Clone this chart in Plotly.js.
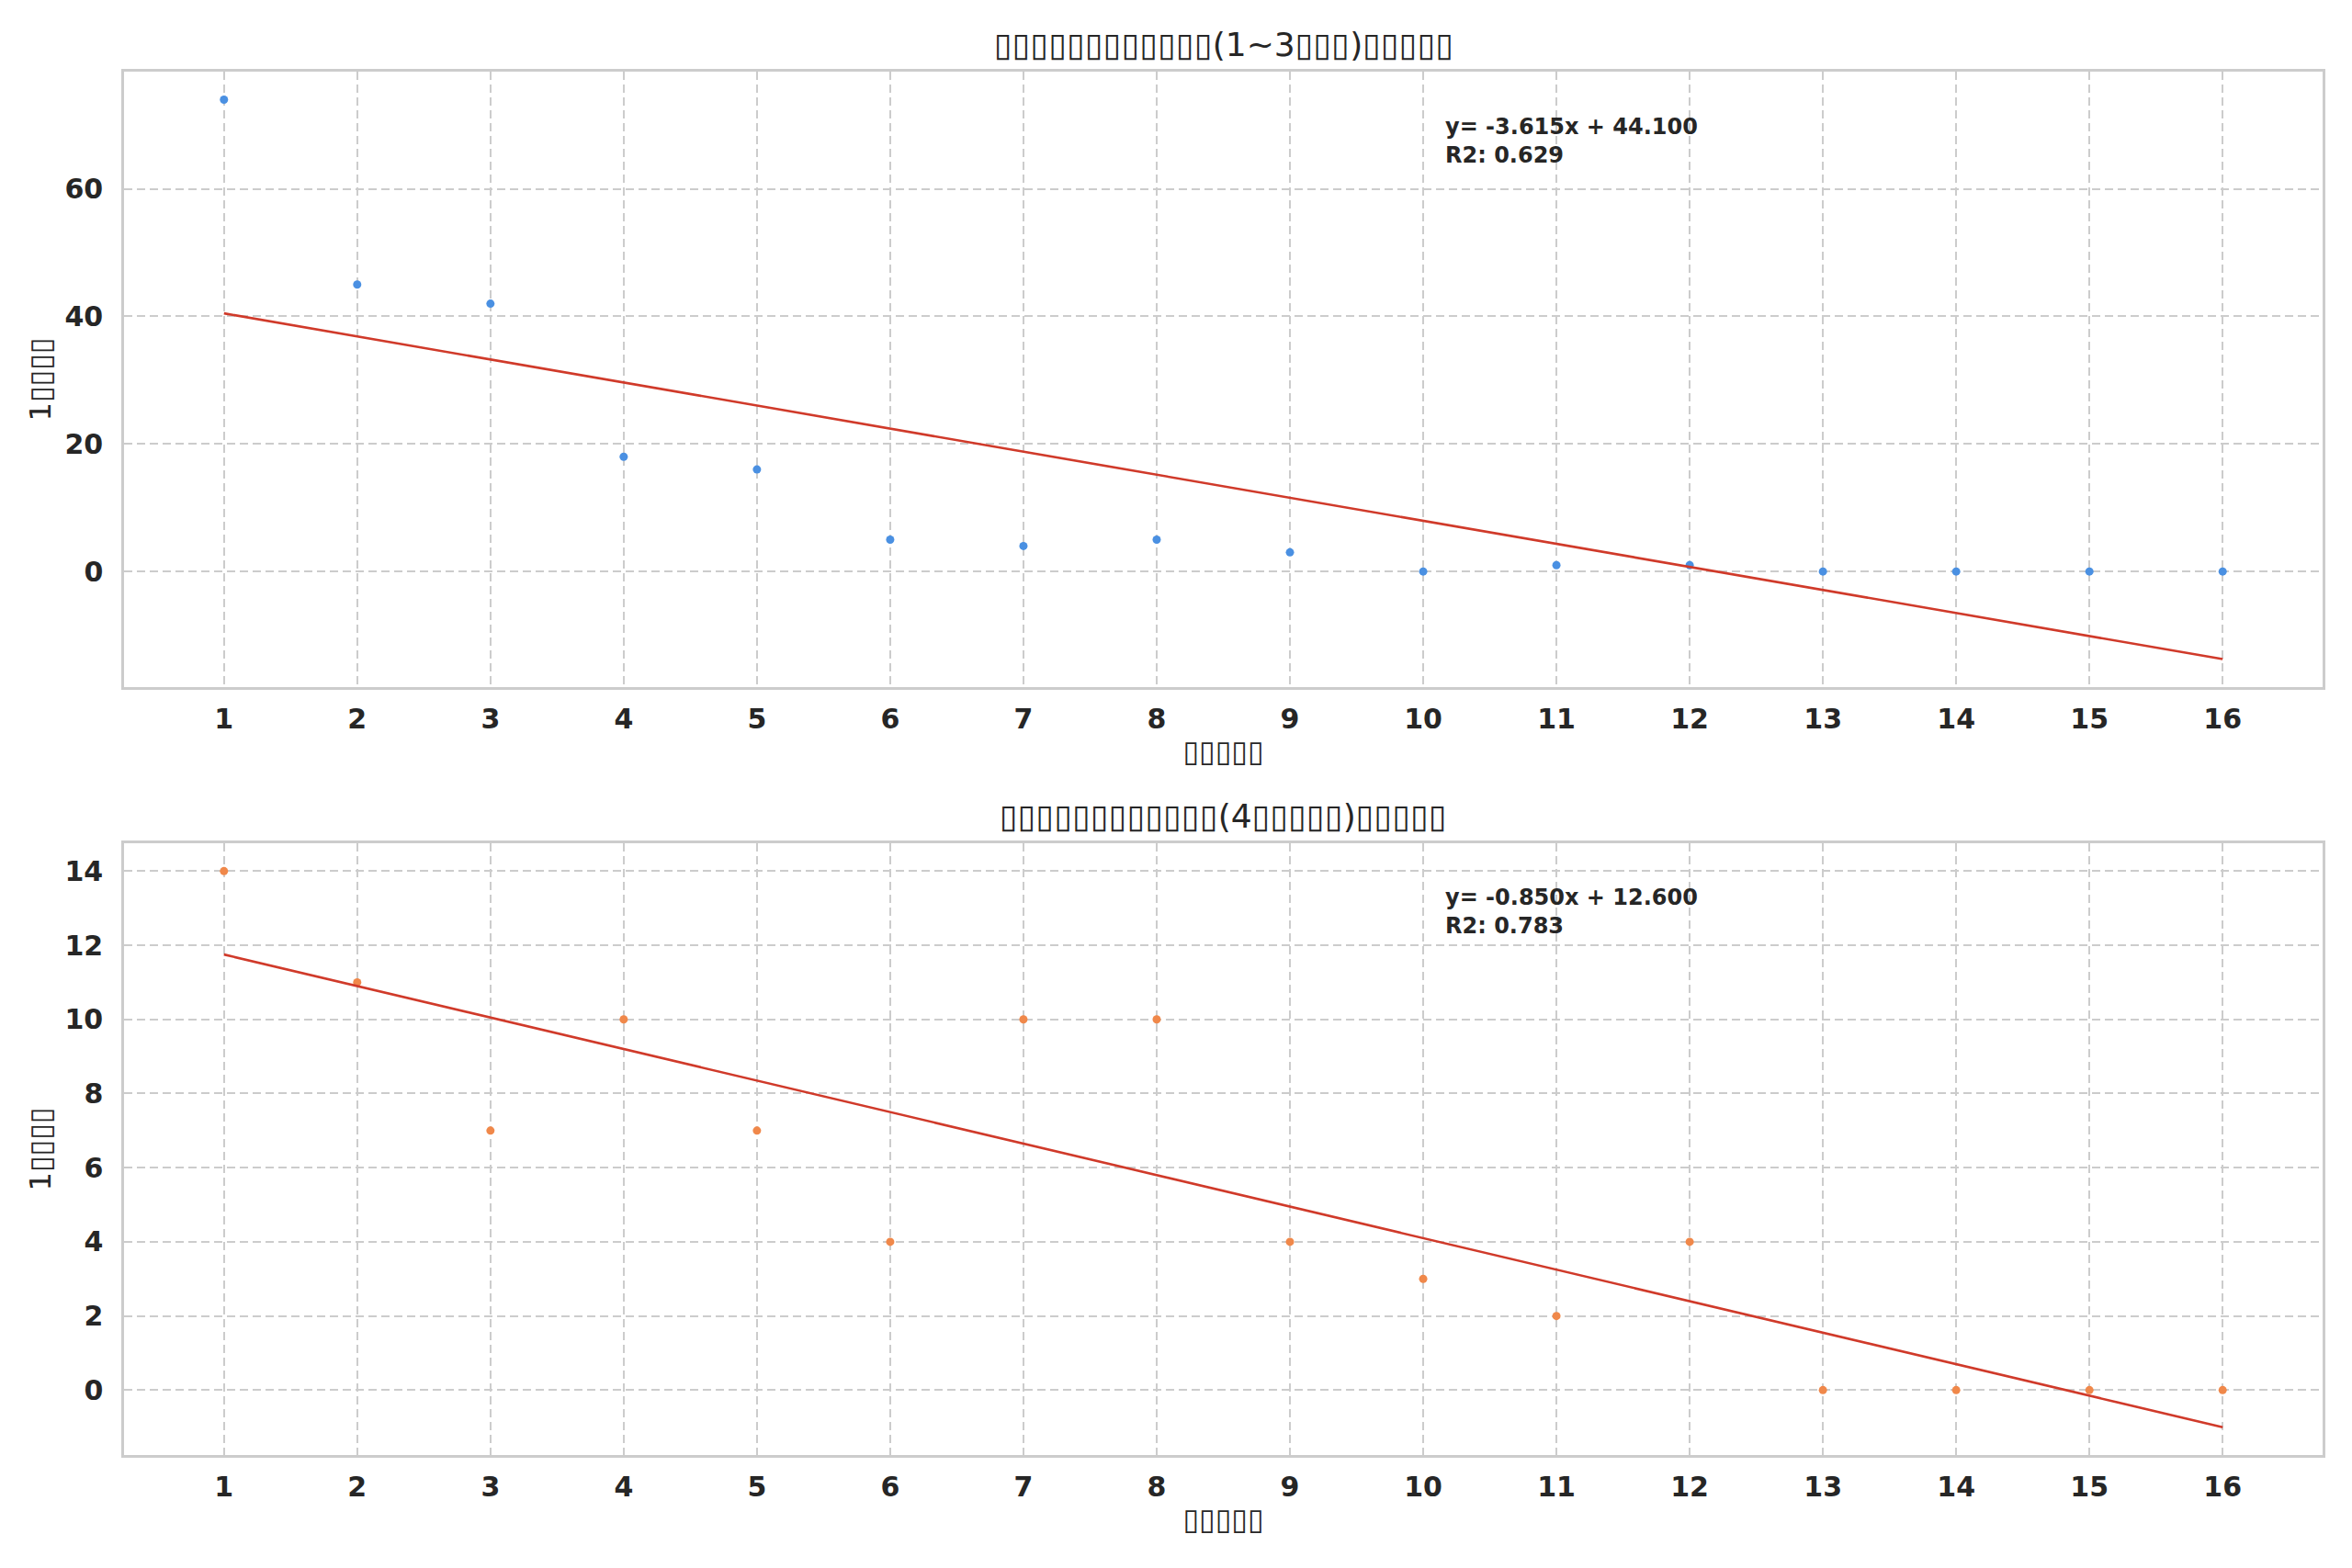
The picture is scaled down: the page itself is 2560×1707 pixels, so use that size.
<!DOCTYPE html>
<html>
<head>
<meta charset="utf-8">
<script src="https://cdn.plot.ly/plotly-3.0.1.min.js"></script>
<style>
  html, body { margin: 0; padding: 0; background: #fff; }
  #chart { width: 2560px; height: 1707px; }
</style>
</head>
<body>
<div id="chart"></div>
<script>
// months since start, shared by both panels
var months = [1, 2, 3, 4, 5, 6, 7, 8, 9, 10, 11, 12, 13, 14, 15, 16];

// panel 1: (1~3) group
var countsEarly = [74, 45, 42, 18, 16, 5, 4, 5, 3, 0, 1, 1, 0, 0, 0, 0];
// panel 2: (4...) group
var countsLate = [14, 11, 7, 10, 7, 4, 10, 10, 4, 3, 2, 4, 0, 0, 0, 0];

// fitted lines as printed in the chart
var fitEarly = {slope: -3.615, intercept: 44.100, r2: 0.629};
var fitLate = {slope: -0.850, intercept: 12.600, r2: 0.783};

// the original labels rendered as missing-glyph boxes
var titleEarly = '▯▯▯▯▯▯▯▯▯▯▯▯(1~3▯▯▯)▯▯▯▯▯';
var titleLate = '▯▯▯▯▯▯▯▯▯▯▯▯(4▯▯▯▯▯)▯▯▯▯▯';
var xLabel = '▯▯▯▯▯';
var yLabel = '1▯▯▯▯';

var textColor = '#262626';
var gridColor = '#cccccc';

function fitLine(fit) {
  return months.map(function (m) { return fit.slope * m + fit.intercept; });
}

var data = [
  {
    type: 'scatter', mode: 'markers', x: months, y: countsEarly,
    xaxis: 'x', yaxis: 'y',
    marker: {color: '#4a90e2', size: 9}
  },
  {
    type: 'scatter', mode: 'lines', x: months, y: fitLine(fitEarly),
    xaxis: 'x', yaxis: 'y',
    line: {color: '#d03a2a', width: 2.6}
  },
  {
    type: 'scatter', mode: 'markers', x: months, y: countsLate,
    xaxis: 'x2', yaxis: 'y2',
    marker: {color: '#f0884a', size: 9}
  },
  {
    type: 'scatter', mode: 'lines', x: months, y: fitLine(fitLate),
    xaxis: 'x2', yaxis: 'y2',
    line: {color: '#d03a2a', width: 2.6}
  }
];

function xAxis(anchor) {
  return {
    anchor: anchor,
    range: [0.25, 16.75],
    tickvals: months,
    ticks: '',
    ticklabelstandoff: 6,
    tickfont: {family: 'DejaVu Sans', size: 30, color: textColor, weight: 'bold'},
    showgrid: true, gridcolor: gridColor, gridwidth: 2, griddash: '9px,5px',
    showline: true, mirror: true, linecolor: gridColor, linewidth: 2.5,
    zeroline: false,
    title: {text: xLabel, font: {family: 'DejaVu Sans', size: 32, color: textColor}, standoff: 8}
  };
}

function yAxis(anchor, domain, range, dtick) {
  return {
    anchor: anchor,
    domain: domain,
    range: range,
    dtick: dtick,
    ticks: '',
    ticklabelstandoff: 14,
    tickfont: {family: 'DejaVu Sans', size: 30, color: textColor, weight: 'bold'},
    showgrid: true, gridcolor: gridColor, gridwidth: 2, griddash: '9px,5px',
    showline: true, mirror: true, linecolor: gridColor, linewidth: 2.5,
    zeroline: false,
    title: {text: yLabel, font: {family: 'DejaVu Sans', size: 32, color: textColor}, standoff: 6}
  };
}

function fitNote(fit, xref, yref) {
  return {
    xref: xref, yref: yref, x: 0.6, y: 0.95, yshift: -10,
    xanchor: 'left', yanchor: 'top', align: 'left', showarrow: false,
    text: 'y= ' + fit.slope.toFixed(3) + 'x + ' + fit.intercept.toFixed(3) +
          '<br>R2: ' + fit.r2.toFixed(3),
    font: {family: 'DejaVu Sans', size: 24, color: textColor, weight: 'bold'}
  };
}

function panelTitle(text, yref) {
  return {
    xref: 'paper', yref: yref, x: 0.5, y: 1, yshift: 7,
    xanchor: 'center', yanchor: 'bottom', showarrow: false,
    text: text,
    font: {family: 'DejaVu Sans', size: 36, color: textColor}
  };
}

var layout = {
  width: 2560,
  height: 1707,
  paper_bgcolor: '#ffffff',
  plot_bgcolor: '#ffffff',
  showlegend: false,
  margin: {l: 135, r: 32, t: 78, b: 123},
  xaxis: xAxis('y'),
  yaxis: yAxis('x', [0.5551, 1], [-18.13, 78.39], 20),
  xaxis2: xAxis('y2'),
  yaxis2: yAxis('x2', [0, 0.4422], [-1.75, 14.75], 2),
  annotations: [
    panelTitle(titleEarly, 'y domain'),
    panelTitle(titleLate, 'y2 domain'),
    fitNote(fitEarly, 'x domain', 'y domain'),
    fitNote(fitLate, 'x2 domain', 'y2 domain')
  ]
};

Plotly.newPlot('chart', data, layout, {displayModeBar: false});
</script>
</body>
</html>
